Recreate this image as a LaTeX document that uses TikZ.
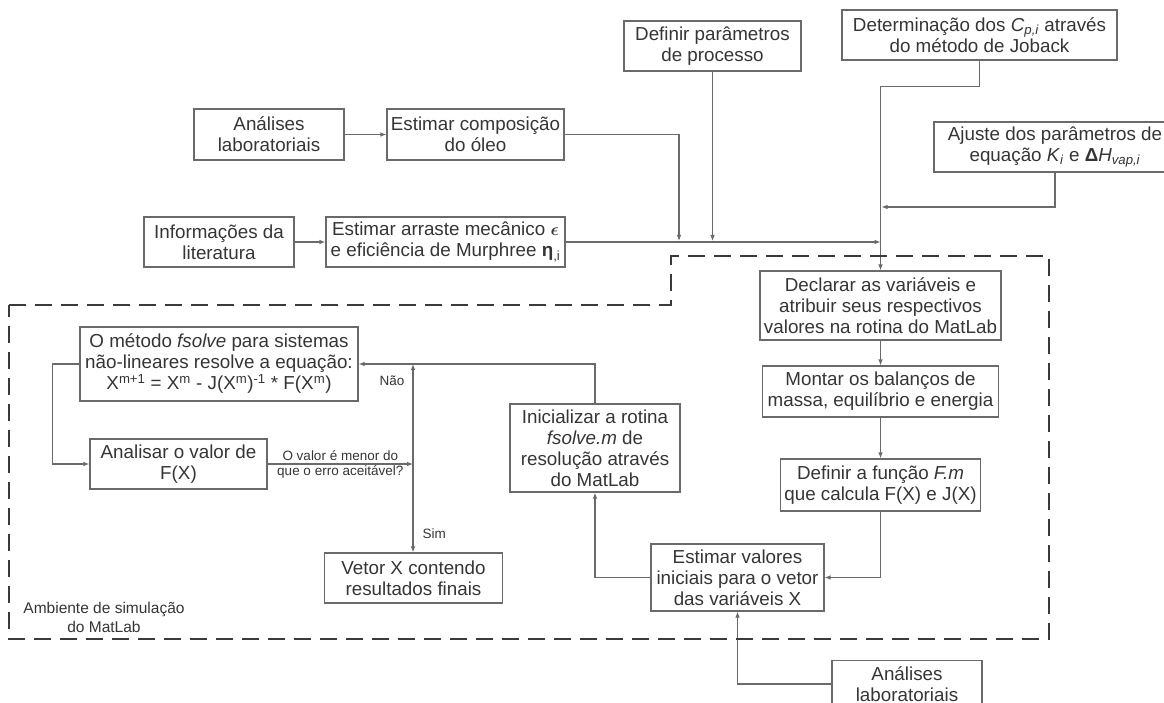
\documentclass[tikz,border=0pt]{standalone}
\usepackage{fontspec}
\setmainfont{Liberation Sans}
\usepackage{bm}
\usetikzlibrary{%
  arrows.meta,%
  positioning,% wg. " of "
  calc%
}
\definecolor{boxgray}{HTML}{6A6A6A}
\definecolor{txtgray}{HTML}{353535}
\definecolor{dashgray}{HTML}{3A3A3A}

\begin{document}
\begin{tikzpicture}[
  x=1pt, y=-1pt,
  font=\fontsize{18.8}{21}\selectfont,
  >={Latex[length=6pt,width=4.6pt]},
  line width=1.1pt,
  bloco/.style={draw=boxgray, align=center, inner sep=0pt, text=txtgray},
  seta/.style={->, draw=boxgray},
  rotulo/.style={text=txtgray, font=\fontsize{13.5}{15}\selectfont, align=center, inner sep=0pt},
  ambiente/.style={draw=dashgray, line width=2pt, dash pattern=on 17pt off 9pt},
]
\clip (0,0) rectangle (1164,703);

% entradas externas
\node[bloco, minimum width=150, minimum height=51] (analA) at (269,134.5) {Análises\\laboratoriais};
\node[bloco, minimum width=177, minimum height=51] (comp) at (475.5,134.5) {Estimar composição\\do óleo};
\node[bloco, minimum width=150, minimum height=50] (info) at (219,242) {Informações da\\literatura};
\node[bloco, minimum width=239, minimum height=50] (arraste) at (445.5,242) {Estimar arraste mecânico $\bm{\epsilon}$\\e eficiência de Murphree \textbf{η}\textsubscript{,i}};
\node[bloco, minimum width=177, minimum height=50] (defp) at (712.5,46) {Definir parâmetros\\de processo};
\node[bloco, minimum width=275, minimum height=50] (joback) at (979.5,35) {Determinação dos \textit{C}\textsubscript{\textit{p,i}} através\\do método de Joback};
\node[bloco, minimum width=242, minimum height=50] (ajuste) at (1055,147) {Ajuste dos parâmetros de\\equação \textit{K}\textsubscript{\textit{i}} e \textbf{Δ}\textit{H}\textsubscript{\textit{vap,i}}};
\node[bloco, minimum width=150, minimum height=47] (analB) at (907,684) {Análises\\laboratoriais};

% ambiente MatLab
\node[bloco, minimum width=241, minimum height=69] (declarar) at (880.5,305.5) {Declarar as variáveis e\\atribuir seus respectivos\\valores na rotina do MatLab};
\node[bloco, minimum width=236, minimum height=51] (montar) at (880.5,391.5) {Montar os balanços de\\massa, equilíbrio e energia};
\node[bloco, minimum width=200, minimum height=52] (deffm) at (880.5,485) {Definir a função \textit{F.m}\\que calcula F(X) e J(X)};
\node[bloco, minimum width=173, minimum height=67] (estval) at (737.5,577.5) {Estimar valores\\iniciais para o vetor\\das variáveis X};
\node[bloco, minimum width=170, minimum height=88] (inic) at (595,448) {Inicializar a rotina\\\textit{fsolve.m} de\\resolução através\\do MatLab};
\node[bloco, minimum width=278, minimum height=74] (fsolve) at (219,364) {O método \textit{fsolve} para sistemas\\não-lineares resolve a equação:\\X\textsuperscript{m+1} = X\textsuperscript{m} - J(X\textsuperscript{m})\textsuperscript{-1} * F(X\textsuperscript{m})};
\node[bloco, minimum width=177, minimum height=50] (analisar) at (178.5,464) {Analisar o valor de\\F(X)};
\node[bloco, minimum width=178, minimum height=50] (vetor) at (413.5,578) {Vetor X contendo\\resultados finais};
\node[rotulo, font=\fontsize{15.5}{19}\selectfont] (ambtxt) at (104,617) {Ambiente de simulação\\do MatLab};

\coordinate (entA) at (679,241);
\coordinate (entB) at (712.5,241);
\coordinate (juncao) at (880.5,242);
\coordinate (entC) at (881.5,207);
\coordinate (dec) at (413,464);

% ligacoes de entrada
\draw[seta] (analA) -- (comp);
\draw[seta] (info) -- (arraste);
\draw[seta] (comp.east) -| (entA);
\draw[seta] (defp.south) -- (entB);
\draw[seta] (arraste.east) -- (juncao);
\draw[seta] (joback.south) -- ++(0,26) -| (declarar.north);
\draw[seta] (ajuste.south) |- (entC);

% fluxo interno
\draw[seta] (declarar) -- (montar);
\draw[seta] (montar) -- (deffm);
\draw[seta] (deffm.south) |- (estval.east);
\draw[seta] (analB.west) -| (estval.south);
\draw[seta] (estval.west) -| (inic.south);
\draw[seta] (inic.north) |- (fsolve.east);
\draw[seta] (fsolve.west) -- ++(-27,0) |- (analisar.west);
\draw[seta] (analisar.east) -- node[rotulo] {O valor é menor do\\que o erro aceitável?} (dec);
\draw[seta] (dec) -- node[rotulo, pos=0.83, left=8pt] {Não} (dec |- fsolve.east);
\draw[seta] (dec) -- node[rotulo, pos=0.79, right=9pt] {Sim} (dec |- vetor.north);

\draw[ambiente] (9,305) -- (671,305) -- (671,256) -- (1049,256) -- (1049,639) -- (9,639) -- cycle;

\end{tikzpicture}
\end{document}
